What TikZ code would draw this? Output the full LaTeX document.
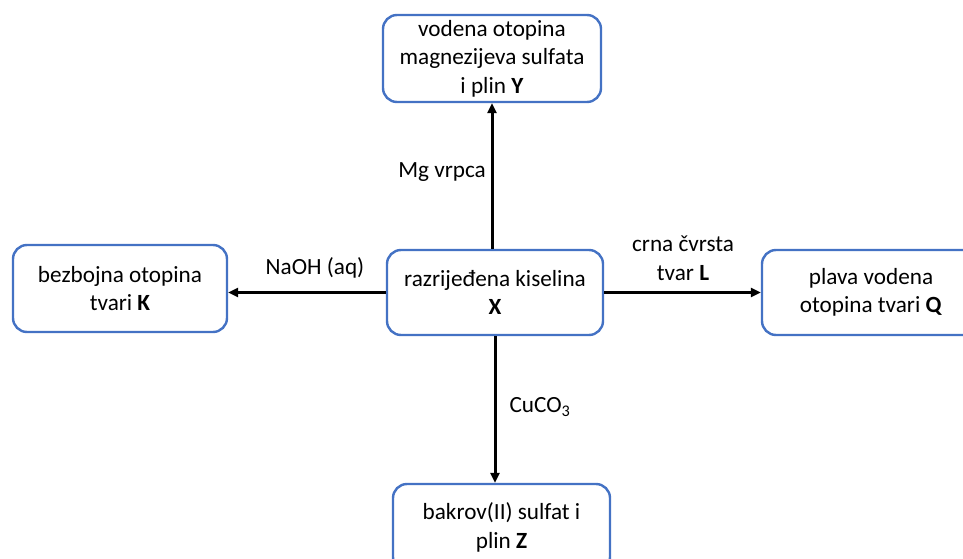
\documentclass[tikz,border=0pt]{standalone}
\usepackage{fontspec}
\setmainfont{Carlito}
\usetikzlibrary{arrows.meta}
\definecolor{boxblue}{HTML}{4472C4}
\tikzset{
  box/.style={draw=boxblue, line width=2.4pt, rounded corners=14pt, fill=white,
    align=center, font=\fontsize{23.2}{28.5}\selectfont, inner sep=0pt},
  arr/.style={line width=3pt, -{Triangle[length=10pt,width=9pt]}},
  lab/.style={font=\fontsize{23.2}{28.5}\selectfont, align=center, inner sep=0pt}
}
\begin{document}
\begin{tikzpicture}[x=1pt,y=-1pt]
\useasboundingbox (0,0) rectangle (963,559);
\clip (0,0) rectangle (963,559);
\node[box, minimum width=218pt, minimum height=87pt] (Y) at (492,58.5) {vodena otopina\\magnezijeva sulfata\\i plin \textbf{Y}};
\node[box, minimum width=214pt, minimum height=87pt] (K) at (120,288.5) {bezbojna otopina\\tvari \textbf{K}};
\node[box, minimum width=216pt, minimum height=85pt] (X) at (495,292.5) {razrijeđena kiselina\\\textbf{X}};
\node[box, minimum width=218pt, minimum height=85pt] (Q) at (871,292.5) {plava vodena\\otopina tvari \textbf{Q}};
\node[box, minimum width=217pt, minimum height=87pt] (Z) at (501.5,527.5) {bakrov(II) sulfat i\\plin \textbf{Z}};
\draw[arr] (X.north -| Y.south) -- (Y.south);
\draw[arr] (X.west) -- (X.west -| K.east);
\draw[arr] (X.east) -- (X.east -| Q.west);
\draw[arr] (X.south) -- (X.south |- Z.north);
\node[lab] (lMg) at (442,172) {Mg vrpca};
\node[lab] (lNa) at (315,268) {NaOH (aq)};
\node[lab] (lL) at (683,258) {crna čvrsta\\tvar \textbf{L}};
\node[lab] (lCu) at (540,407) {CuCO\textsubscript{3}};
\end{tikzpicture}
\end{document}
